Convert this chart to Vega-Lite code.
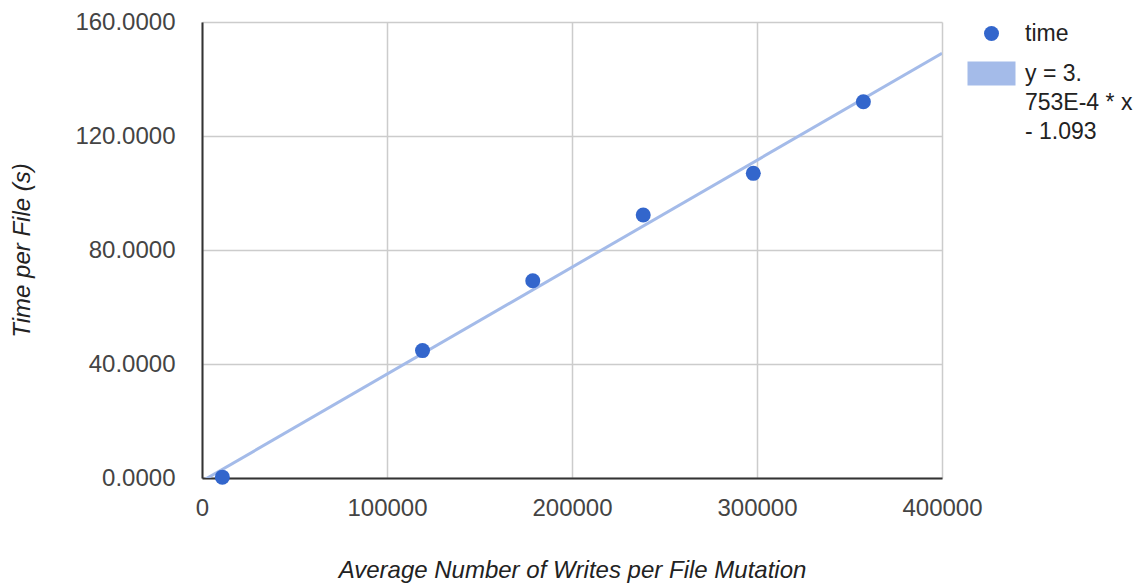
{
  "$schema": "https://vega.github.io/schema/vega-lite/v6.json",
  "width": 740,
  "height": 456,
  "autosize": {"type": "none"},
  "padding": {"left": 202, "top": 22, "right": 205, "bottom": 108},
  "background": "white",
  "config": {
    "view": {"stroke": null},
    "font": "Liberation Sans",
    "axis": {
      "labelFont": "Liberation Sans",
      "titleFont": "Liberation Sans",
      "labelFontSize": 24,
      "titleFontSize": 24,
      "labelColor": "#444444",
      "titleColor": "#222222",
      "titleFontStyle": "italic",
      "titleFontWeight": "normal",
      "gridColor": "#cccccc",
      "gridWidth": 1.5,
      "domainColor": "#333333",
      "domainWidth": 2,
      "ticks": false,
      "labelFlush": false,
      "labelOverlap": false
    }
  },
  "datasets": {
    "points": [
      {"writes": 11000, "time": 0.3, "series": "time"},
      {"writes": 119200, "time": 44.7, "series": "time"},
      {"writes": 178800, "time": 69.2, "series": "time"},
      {"writes": 238500, "time": 92.3, "series": "time"},
      {"writes": 298000, "time": 106.9, "series": "time"},
      {"writes": 357500, "time": 132.0, "series": "time"}
    ],
    "trend": [
      {"writes": 0, "time": -1.093, "series": "y = 3.753E-4 * x - 1.093"},
      {"writes": 400000, "time": 149.027, "series": "y = 3.753E-4 * x - 1.093"}
    ]
  },
  "encoding": {
    "x": {
      "field": "writes",
      "type": "quantitative",
      "scale": {"domain": [0, 400000], "nice": false, "zero": false},
      "axis": {
        "values": [0, 100000, 200000, 300000, 400000],
        "format": "d",
        "labelPadding": 18,
        "titlePadding": 38,
        "title": "Average Number of Writes per File Mutation"
      }
    },
    "y": {
      "field": "time",
      "type": "quantitative",
      "scale": {"domain": [0, 160], "nice": false, "zero": false},
      "axis": {
        "values": [0, 40, 80, 120, 160],
        "format": ".4f",
        "labelPadding": 27,
        "titlePadding": 40,
        "title": "Time per File (s)"
      }
    },
    "color": {
      "field": "series",
      "type": "nominal",
      "scale": {
        "domain": ["time", "y = 3.753E-4 * x - 1.093"],
        "range": ["#3366cc", "#a4bbe9"]
      },
      "legend": {
        "title": null,
        "orient": "right",
        "offset": 38,
        "padding": 0,
        "labelFont": "Liberation Sans",
        "labelFontSize": 23,
        "labelColor": "#222222",
        "labelOffset": 22,
        "rowPadding": 15,
        "symbolSize": 225,
        "labelLimit": 300,
        "labelExpr": "datum.value == 'time' ? 'time' : ['y = 3.', '753E-4 * x', '- 1.093']",
        "encode": {
          "labels": {
            "update": {
              "lineHeight": {"value": 29}
            }
          },
          "symbols": {
            "update": {
              "shape": {"signal": "datum.value == 'time' ? 'circle' : 'M-3.2,-1.6H3.2V1.6H-3.2Z'"},
              "fill": {"signal": "datum.value == 'time' ? '#3366cc' : '#a4bbe9'"},
              "fillOpacity": {"value": 1},
              "opacity": {"value": 1},
              "strokeWidth": {"value": 0},
              "size": {"value": 225}
            }
          }
        }
      }
    }
  },
  "layer": [
    {
      "data": {"name": "trend"},
      "mark": {"type": "line", "strokeWidth": 3, "clip": true}
    },
    {
      "data": {"name": "points"},
      "mark": {"type": "point", "filled": true, "size": 225, "opacity": 1, "shape": "circle"}
    }
  ]
}
